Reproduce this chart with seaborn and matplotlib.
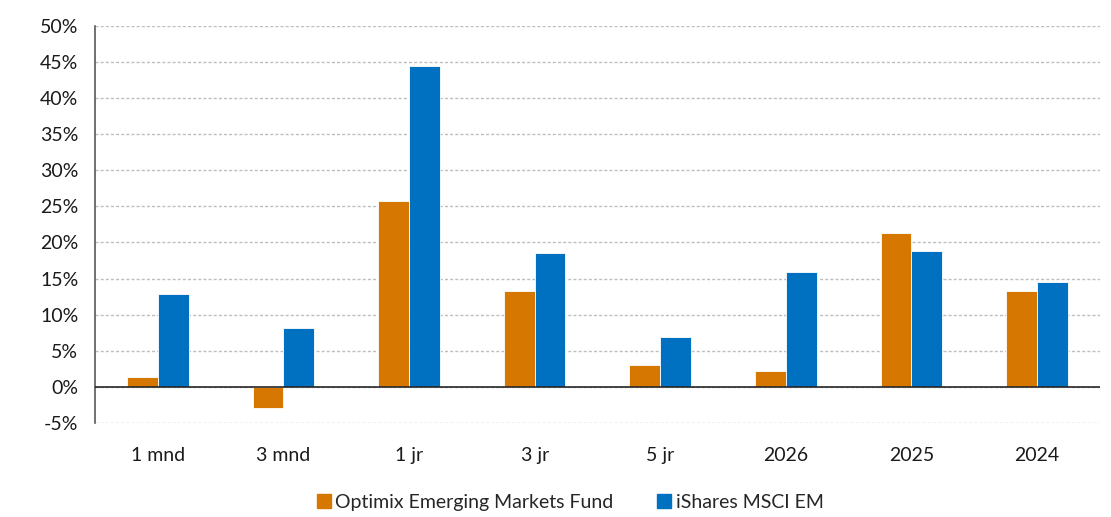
import pandas as pd
import seaborn as sns
import matplotlib.pyplot as plt
from matplotlib.ticker import MultipleLocator, FuncFormatter
from matplotlib.lines import Line2D

# data (in %)
periods = ["1 mnd", "3 mnd", "1 jr", "3 jr", "5 jr", "2026", "2025", "2024"]
fund = [1.3, -3.0, 25.7, 13.25, 3.0, 2.25, 21.3, 13.3]
index_em = [12.9, 8.1, 44.5, 18.6, 6.9, 15.9, 18.8, 14.5]

series_names = ["Optimix Emerging Markets Fund", "iShares MSCI EM"]
colors = ["#D57700", "#0070C0"]

df = pd.DataFrame({
    "periode": periods * 2,
    "rendement": fund + index_em,
    "serie": [series_names[0]] * len(periods) + [series_names[1]] * len(periods),
})

sns.set_style("white")
plt.rcParams["font.family"] = ["Lato", "DejaVu Sans"]

fig, ax = plt.subplots(figsize=(11.11, 5.17), dpi=100)
fig.subplots_adjust(left=0.0855, right=0.99, top=0.95, bottom=0.182)

sns.barplot(data=df, x="periode", y="rendement", hue="serie", order=periods,
            hue_order=series_names, palette=colors, width=0.49, gap=0,
            saturation=1, edgecolor="white", linewidth=0.6, legend=False, ax=ax)

ax.set_ylim(-5, 50)
ax.set_xlim(-0.5, len(periods) - 0.5)
ax.yaxis.set_major_locator(MultipleLocator(5))
ax.yaxis.set_major_formatter(FuncFormatter(lambda v, p: f"{v:.0f}%"))
ax.yaxis.grid(True, color="#BFBFBF", linestyle=(0, (2.2, 1.5)), linewidth=1)
ax.set_axisbelow(True)
ax.axhline(0, color="#262626", linewidth=1.2, zorder=3)

for side in ["top", "right", "bottom"]:
    ax.spines[side].set_visible(False)
ax.spines["left"].set_color("#595959")
ax.spines["left"].set_linewidth(1.2)

ax.tick_params(axis="y", length=7, width=1, color="#595959", labelsize=14,
               labelcolor="#1a1a1a", pad=5)
ax.tick_params(axis="x", length=0, labelsize=14, labelcolor="#1a1a1a", pad=17)
ax.set_xlabel("")
ax.set_ylabel("")

handles = [Line2D([0], [0], marker="s", linestyle="none", markersize=10,
                  markerfacecolor=c, markeredgecolor=c) for c in colors]
fig.legend(handles, series_names, loc="lower center", ncol=2, frameon=False,
           bbox_to_anchor=(0.513, -0.022), fontsize=14, columnspacing=2.2,
           handletextpad=0.2, handlelength=0.8)

plt.savefig("out.png", dpi=100)
